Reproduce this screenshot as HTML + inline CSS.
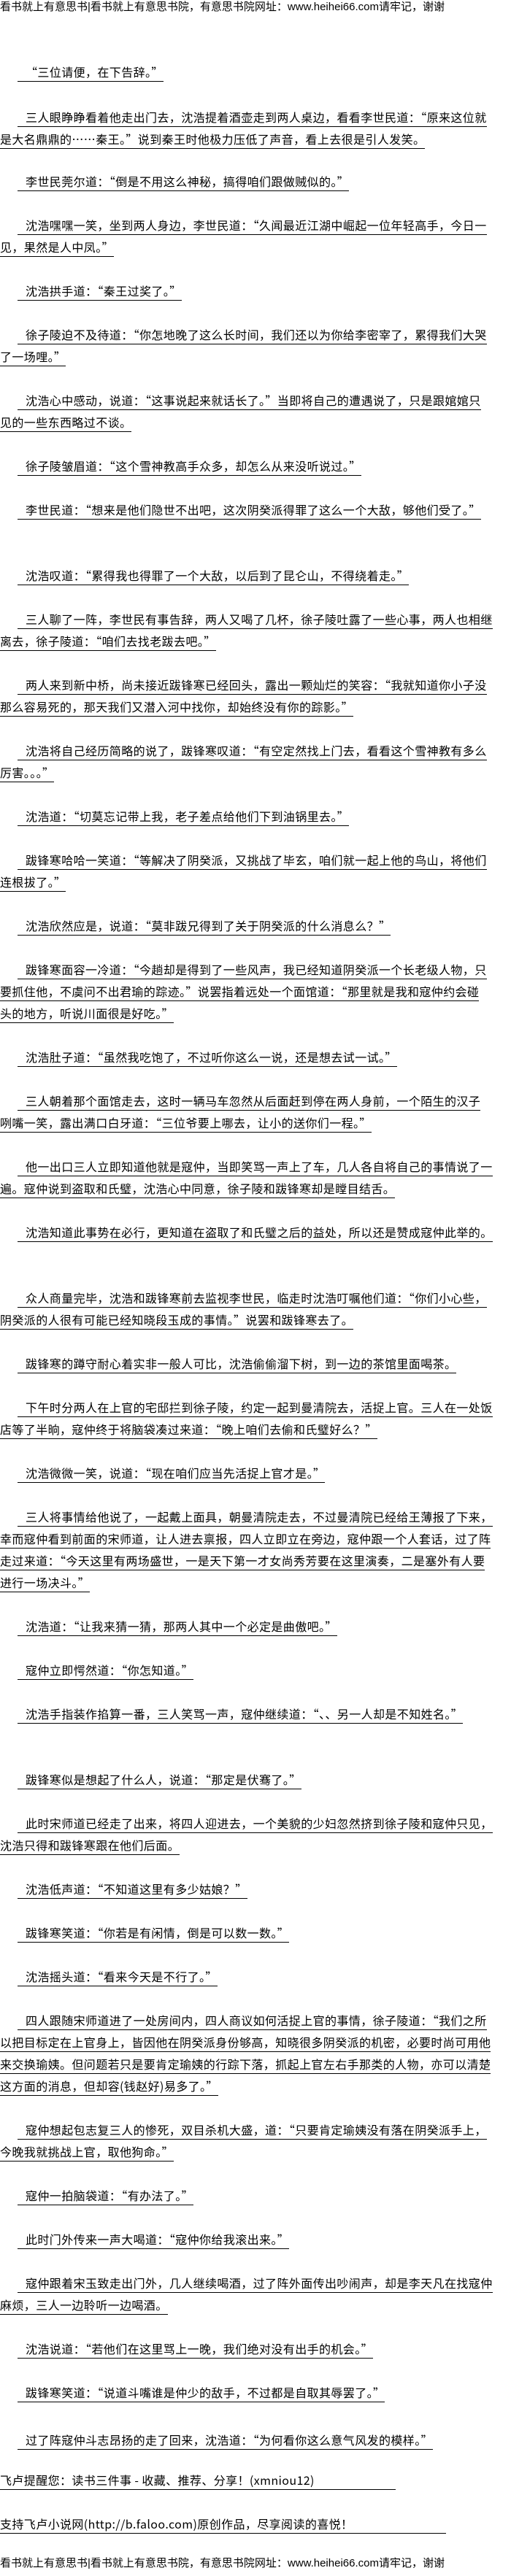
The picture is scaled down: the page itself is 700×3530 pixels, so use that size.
<!DOCTYPE html>
<html><head><meta charset="utf-8">
<style>
html,body{margin:0;padding:0;background:#fff;}
body{width:700px;height:3530px;position:relative;overflow:hidden;font-family:"Noto Sans CJK SC","WenQuanYi Zen Hei","Liberation Sans",sans-serif;color:#000;}
.l{position:absolute;left:0;height:20px;line-height:20px;font-size:16px;letter-spacing:0.4px;white-space:nowrap;}
.l span{border-bottom:1px solid #000;padding-bottom:1px;}
.f{left:24px;}
.f span{padding-left:11px;}
.h{font-size:15px;letter-spacing:0;font-family:"Liberation Sans","Noto Sans CJK SC",sans-serif;}
</style></head><body>
<div class="l h" style="top:0px">看书就上有意思书|看书就上有意思书院，有意思书院网址：www.heihei66.com请牢记，谢谢</div>

<div class="l f" style="top:88px"><span>“三位请便，在下告辞。”</span></div>

<div class="l f" style="top:150px"><span>三人眼睁睁看着他走出门去，沈浩提着酒壶走到两人桌边，看看李世民道：“原来这位就</span></div>
<div class="l" style="top:180px"><span>是大名鼎鼎的……秦王。”说到秦王时他极力压低了声音，看上去很是引人发笑。</span></div>

<div class="l f" style="top:238px"><span>李世民莞尔道：“倒是不用这么神秘，搞得咱们跟做贼似的。”</span></div>

<div class="l f" style="top:298px"><span>沈浩嘿嘿一笑，坐到两人身边，李世民道：“久闻最近江湖中崛起一位年轻高手，今日一</span></div>
<div class="l" style="top:328px"><span>见，果然是人中凤。”</span></div>

<div class="l f" style="top:388px"><span>沈浩拱手道：“秦王过奖了。”</span></div>

<div class="l f" style="top:448px"><span>徐子陵迫不及待道：“你怎地晚了这么长时间，我们还以为你给李密宰了，累得我们大哭</span></div>
<div class="l" style="top:478px"><span>了一场哩。”</span></div>

<div class="l f" style="top:538px"><span>沈浩心中感动，说道：“这事说起来就话长了。”当即将自己的遭遇说了，只是跟婠婠只</span></div>
<div class="l" style="top:568px"><span>见的一些东西略过不谈。</span></div>

<div class="l f" style="top:628px"><span>徐子陵皱眉道：“这个雪神教高手众多，却怎么从来没听说过。”</span></div>

<div class="l f" style="top:688px"><span>李世民道：“想来是他们隐世不出吧，这次阴癸派得罪了这么一个大敌，够他们受了。”</span></div>

<div class="l f" style="top:778px"><span>沈浩叹道：“累得我也得罪了一个大敌，以后到了昆仑山，不得绕着走。”</span></div>

<div class="l f" style="top:838px"><span>三人聊了一阵，李世民有事告辞，两人又喝了几杯，徐子陵吐露了一些心事，两人也相继</span></div>
<div class="l" style="top:868px"><span>离去，徐子陵道：“咱们去找老跋去吧。”</span></div>

<div class="l f" style="top:928px"><span>两人来到新中桥，尚未接近跋锋寒已经回头，露出一颗灿烂的笑容：“我就知道你小子没</span></div>
<div class="l" style="top:958px"><span>那么容易死的，那天我们又潜入河中找你，却始终没有你的踪影。”</span></div>

<div class="l f" style="top:1018px"><span>沈浩将自己经历简略的说了，跋锋寒叹道：“有空定然找上门去，看看这个雪神教有多么</span></div>
<div class="l" style="top:1048px"><span>厉害。。。”</span></div>

<div class="l f" style="top:1108px"><span>沈浩道：“切莫忘记带上我，老子差点给他们下到油锅里去。”</span></div>

<div class="l f" style="top:1168px"><span>跋锋寒哈哈一笑道：“等解决了阴癸派，又挑战了毕玄，咱们就一起上他的鸟山，将他们</span></div>
<div class="l" style="top:1198px"><span>连根拔了。”</span></div>

<div class="l f" style="top:1258px"><span>沈浩欣然应是，说道：“莫非跋兄得到了关于阴癸派的什么消息么？”</span></div>

<div class="l f" style="top:1318px"><span>跋锋寒面容一冷道：“今趟却是得到了一些风声，我已经知道阴癸派一个长老级人物，只</span></div>
<div class="l" style="top:1348px"><span>要抓住他，不虞问不出君瑜的踪迹。”说罢指着远处一个面馆道：“那里就是我和寇仲约会碰</span></div>
<div class="l" style="top:1378px"><span>头的地方，听说川面很是好吃。”</span></div>

<div class="l f" style="top:1438px"><span>沈浩肚子道：“虽然我吃饱了，不过听你这么一说，还是想去试一试。”</span></div>

<div class="l f" style="top:1498px"><span>三人朝着那个面馆走去，这时一辆马车忽然从后面赶到停在两人身前，一个陌生的汉子</span></div>
<div class="l" style="top:1528px"><span>咧嘴一笑，露出满口白牙道：“三位爷要上哪去，让小的送你们一程。”</span></div>

<div class="l f" style="top:1588px"><span>他一出口三人立即知道他就是寇仲，当即笑骂一声上了车，几人各自将自己的事情说了一</span></div>
<div class="l" style="top:1618px"><span>遍。寇仲说到盗取和氏璧，沈浩心中同意，徐子陵和跋锋寒却是瞠目结舌。</span></div>

<div class="l f" style="top:1678px"><span>沈浩知道此事势在必行，更知道在盗取了和氏璧之后的益处，所以还是赞成寇仲此举的。</span></div>

<div class="l f" style="top:1768px"><span>众人商量完毕，沈浩和跋锋寒前去监视李世民，临走时沈浩叮嘱他们道：“你们小心些，</span></div>
<div class="l" style="top:1798px"><span>阴癸派的人很有可能已经知晓段玉成的事情。”说罢和跋锋寒去了。</span></div>

<div class="l f" style="top:1858px"><span>跋锋寒的蹲守耐心着实非一般人可比，沈浩偷偷溜下树，到一边的茶馆里面喝茶。</span></div>

<div class="l f" style="top:1918px"><span>下午时分两人在上官的宅邸拦到徐子陵，约定一起到曼清院去，活捉上官。三人在一处饭</span></div>
<div class="l" style="top:1948px"><span>店等了半晌，寇仲终于将脑袋凑过来道：“晚上咱们去偷和氏璧好么？”</span></div>

<div class="l f" style="top:2008px"><span>沈浩微微一笑，说道：“现在咱们应当先活捉上官才是。”</span></div>

<div class="l f" style="top:2068px"><span>三人将事情给他说了，一起戴上面具，朝曼清院走去，不过曼清院已经给王薄报了下来，</span></div>
<div class="l" style="top:2098px"><span>幸而寇仲看到前面的宋师道，让人进去禀报，四人立即立在旁边，寇仲跟一个人套话，过了阵</span></div>
<div class="l" style="top:2128px"><span>走过来道：“今天这里有两场盛世，一是天下第一才女尚秀芳要在这里演奏，二是塞外有人要</span></div>
<div class="l" style="top:2158px"><span>进行一场决斗。”</span></div>

<div class="l f" style="top:2218px"><span>沈浩道：“让我来猜一猜，那两人其中一个必定是曲傲吧。”</span></div>

<div class="l f" style="top:2278px"><span>寇仲立即愕然道：“你怎知道。”</span></div>

<div class="l f" style="top:2338px"><span>沈浩手指装作掐算一番，三人笑骂一声，寇仲继续道：“、、另一人却是不知姓名。”</span></div>

<div class="l f" style="top:2428px"><span>跋锋寒似是想起了什么人，说道：“那定是伏骞了。”</span></div>

<div class="l f" style="top:2488px"><span>此时宋师道已经走了出来，将四人迎进去，一个美貌的少妇忽然挤到徐子陵和寇仲只见，</span></div>
<div class="l" style="top:2518px"><span>沈浩只得和跋锋寒跟在他们后面。</span></div>

<div class="l f" style="top:2578px"><span>沈浩低声道：“不知道这里有多少姑娘？”</span></div>

<div class="l f" style="top:2638px"><span>跋锋寒笑道：“你若是有闲情，倒是可以数一数。”</span></div>

<div class="l f" style="top:2698px"><span>沈浩摇头道：“看来今天是不行了。”</span></div>

<div class="l f" style="top:2758px"><span>四人跟随宋师道进了一处房间内，四人商议如何活捉上官的事情，徐子陵道：“我们之所</span></div>
<div class="l" style="top:2788px"><span>以把目标定在上官身上，皆因他在阴癸派身份够高，知晓很多阴癸派的机密，必要时尚可用他</span></div>
<div class="l" style="top:2818px"><span>来交换瑜姨。但问题若只是要肯定瑜姨的行踪下落，抓起上官左右手那类的人物，亦可以清楚</span></div>
<div class="l" style="top:2848px"><span>这方面的消息，但却容(钱赵好)易多了。”</span></div>

<div class="l f" style="top:2908px"><span>寇仲想起包志复三人的惨死，双目杀机大盛，道：“只要肯定瑜姨没有落在阴癸派手上，</span></div>
<div class="l" style="top:2938px"><span>今晚我就挑战上官，取他狗命。”</span></div>

<div class="l f" style="top:2998px"><span>寇仲一拍脑袋道：“有办法了。”</span></div>

<div class="l f" style="top:3058px"><span>此时门外传来一声大喝道：“寇仲你给我滚出来。”</span></div>

<div class="l f" style="top:3118px"><span>寇仲跟着宋玉致走出门外，几人继续喝酒，过了阵外面传出吵闹声，却是李天凡在找寇仲</span></div>
<div class="l" style="top:3148px"><span>麻烦，三人一边聆听一边喝酒。</span></div>

<div class="l f" style="top:3208px"><span>沈浩说道：“若他们在这里骂上一晚，我们绝对没有出手的机会。”</span></div>

<div class="l f" style="top:3268px"><span>跋锋寒笑道：“说道斗嘴谁是仲少的敌手，不过都是自取其辱罢了。”</span></div>

<div class="l f" style="top:3333px"><span>过了阵寇仲斗志昂扬的走了回来，沈浩道：“为何看你这么意气风发的模样。” </span></div>

<div class="l" style="top:3388px"><span>飞卢提醒您：读书三件事 - 收藏、推荐、分享！(xmniou12)&nbsp;&nbsp;&nbsp;&nbsp;&nbsp;&nbsp;&nbsp;&nbsp;&nbsp;&nbsp;&nbsp;&nbsp;&nbsp;&nbsp;&nbsp;&nbsp;&nbsp;&nbsp;&nbsp;&nbsp;&nbsp;&nbsp;&nbsp;&nbsp;&nbsp;&nbsp;&nbsp;&nbsp;</span></div>

<div class="l" style="top:3448px"><span>支持飞卢小说网(http://b.faloo.com)原创作品，尽享阅读的喜悦！&nbsp;&nbsp;&nbsp;&nbsp;&nbsp;&nbsp;&nbsp;&nbsp;&nbsp;&nbsp;&nbsp;&nbsp;&nbsp;&nbsp;&nbsp;&nbsp;&nbsp;&nbsp;&nbsp;&nbsp;&nbsp;&nbsp;&nbsp;&nbsp;&nbsp;&nbsp;&nbsp;&nbsp;&nbsp;&nbsp;&nbsp;&nbsp;</span></div>

<div class="l h" style="top:3503px">看书就上有意思书|看书就上有意思书院，有意思书院网址：www.heihei66.com请牢记，谢谢</div>
</body></html>
